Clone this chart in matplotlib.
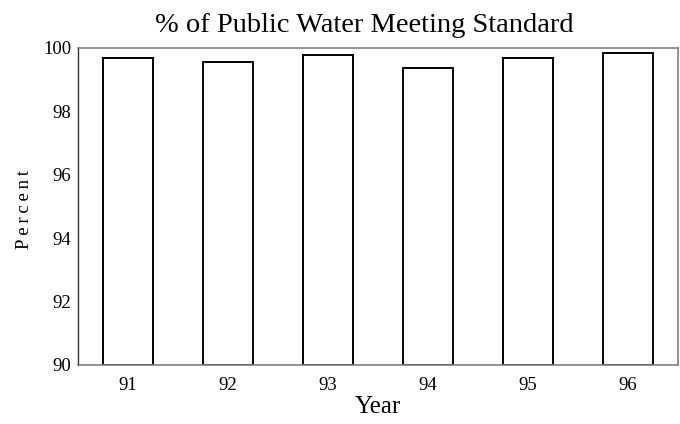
import matplotlib.pyplot as plt
import numpy as np

years = ["91", "92", "93", "94", "95", "96"]
percent = [99.68, 99.56, 99.78, 99.37, 99.68, 99.84]

plt.rcParams["font.family"] = ["Liberation Serif", "DejaVu Serif"]

fig = plt.figure(figsize=(6.8, 4.24), dpi=100)
ax = fig.add_axes([78 / 680, 1 - 365 / 424, 600 / 680, 317 / 424])

x = np.arange(len(years))
ax.bar(x, np.array(percent) - 90, bottom=90, width=0.5,
       color="white", edgecolor="black", linewidth=1.4)

ax.set_xlim(-0.5, len(years) - 0.5)
ax.set_ylim(90, 100)
ax.set_yticks([90, 92, 94, 96, 98, 100])
ax.set_xticks(x)
ax.set_xticklabels(years)
ax.tick_params(length=0, labelsize=13.5)
ax.tick_params(axis="x", pad=9)
ax.tick_params(axis="y", pad=5)

for side in ["top", "right", "bottom"]:
    ax.spines[side].set_color("#808080")
    ax.spines[side].set_linewidth(1.2)
ax.spines["left"].set_color("#333333")
ax.spines["left"].set_linewidth(1.0)

ax.set_xlabel("Year", fontsize=18, labelpad=1)
ax.set_ylabel("P\u2009e\u2009r\u2009c\u2009e\u2009n\u2009t", fontsize=13.5)
ax.yaxis.set_label_coords(-0.075, (365 - 210) / 317)
fig.text(364 / 680, 1 - 26 / 424, "% of Public Water Meeting Standard",
         ha="center", va="center", fontsize=20.5)

fig.savefig("out.png", dpi=100)
